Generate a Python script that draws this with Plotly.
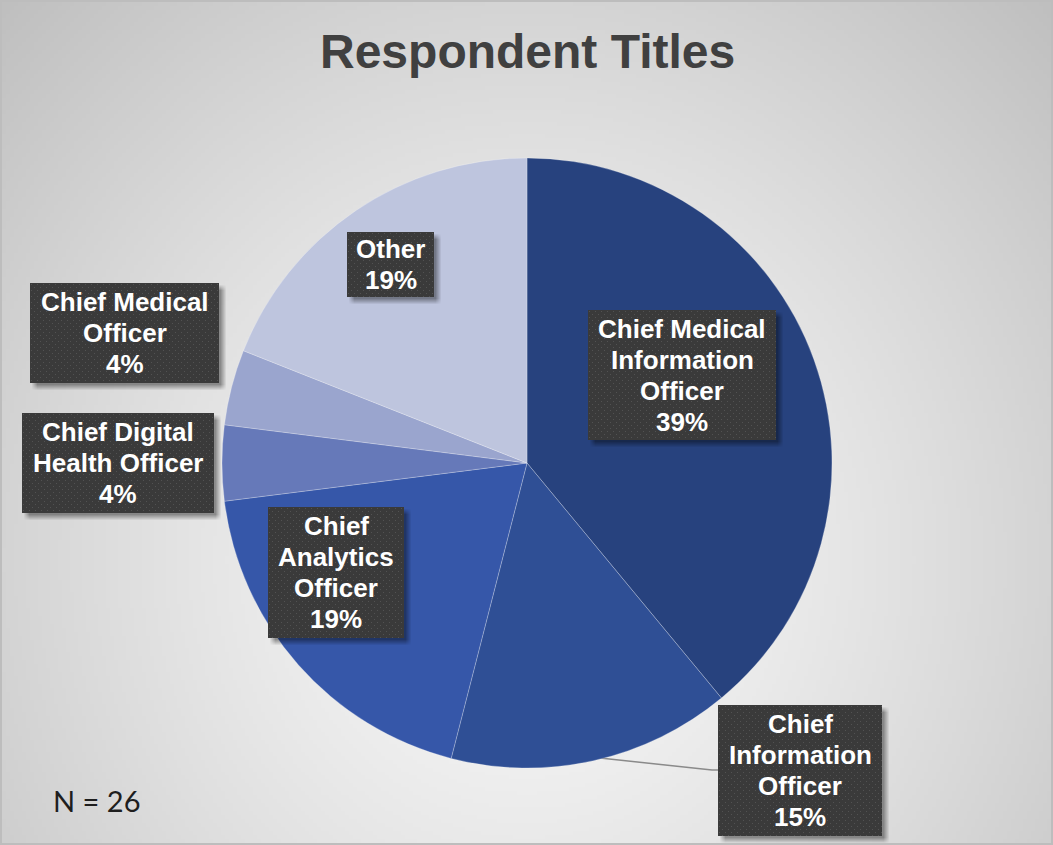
import base64
import struct
import zlib

import numpy as np
import plotly.graph_objects as go

# ---- data -------------------------------------------------------------
titles = [
    "Chief Medical Information Officer",
    "Chief Information Officer",
    "Chief Analytics Officer",
    "Chief Digital Health Officer",
    "Chief Medical Officer",
    "Other",
]
label_lines = [
    ["Chief Medical", "Information", "Officer"],
    ["Chief", "Information", "Officer"],
    ["Chief", "Analytics", "Officer"],
    ["Chief Digital", "Health Officer"],
    ["Chief Medical", "Officer"],
    ["Other"],
]
shares_pct = [39, 15, 19, 4, 4, 19]
respondents = 26

slice_colors = ["#27427e", "#2f4f95", "#3657a9", "#6679b9", "#9aa5ce", "#bec5de"]

# label boxes: left, top, width, height in pixels
label_boxes = [
    (588, 310, 188, 130),
    (718, 705, 164, 131),
    (268, 507, 136, 131),
    (22, 413, 192, 100),
    (30, 283, 189, 100),
    (347, 232, 87, 65),
]
LINE_PITCH = 31
LABEL_SIZE = 26

W, H = 1053, 845


# ---- small PNG helpers ----------------------------------------------
def png_uri(arr):
    arr = np.ascontiguousarray(arr, dtype=np.uint8)
    h, w, c = arr.shape
    ctype = 6 if c == 4 else 2
    raw = b"".join(b"\x00" + arr[r].tobytes() for r in range(h))

    def chunk(tag, data):
        body = tag + data
        return struct.pack(">I", len(data)) + body + struct.pack(">I", zlib.crc32(body) & 0xFFFFFFFF)

    png = b"\x89PNG\r\n\x1a\n"
    png += chunk(b"IHDR", struct.pack(">IIBBBBB", w, h, 8, ctype, 0, 0, 0))
    png += chunk(b"IDAT", zlib.compress(raw, 9))
    png += chunk(b"IEND", b"")
    return "data:image/png;base64," + base64.b64encode(png).decode()


def radial_background():
    bw, bh = 264, 212
    ys, xs = np.mgrid[0:bh, 0:bw].astype(float)
    px = (xs + 0.5) / bw * W
    py = (ys + 0.5) / bh * H
    r = np.sqrt(((px - 527) / 600) ** 2 + ((py - 560) / 640) ** 2)
    v = np.clip(249 - 44 * r ** 1.3, 0, 255)
    img = np.stack([v, v, v], axis=-1)
    return png_uri(img)


def textured_box(w, h, pad=10):
    iw, ih = w + pad, h + pad
    img = np.zeros((ih, iw, 4), dtype=float)
    ys, xs = np.mgrid[0:ih, 0:iw].astype(float)
    off = 4.0
    soft = 6.0
    ax = np.clip((xs - off + soft / 2) / soft, 0, 1) * np.clip((w + off - xs + soft / 2) / soft, 0, 1)
    ay = np.clip((ys - off + soft / 2) / soft, 0, 1) * np.clip((h + off - ys + soft / 2) / soft, 0, 1)
    img[..., 3] = 100 * ax * ay
    # dark panel with a fine dotted texture
    panel = np.full((h, w), 58.0)
    yy, xx = np.mgrid[0:h, 0:w]
    row = yy // 3
    dots = ((yy % 3) == 1) & (((xx + (row % 2) * 3) % 6) == 1)
    panel[dots] = 82.0
    img[:h, :w, 0] = panel
    img[:h, :w, 1] = panel
    img[:h, :w, 2] = panel
    img[:h, :w, 3] = 255
    return png_uri(img)


# ---- figure ----------------------------------------------------------
fig = go.Figure()

fig.add_trace(
    go.Pie(
        labels=titles,
        values=shares_pct,
        sort=False,
        direction="clockwise",
        rotation=0,
        textinfo="none",
        hoverinfo="label+percent",
        marker=dict(colors=slice_colors, line=dict(color="rgba(255,255,255,0.35)", width=0.7)),
        domain=dict(x=[222 / W, 832 / W], y=[1 - 768 / H, 1 - 158 / H]),
        showlegend=False,
    )
)

images = [
    dict(
        source=radial_background(),
        xref="paper", yref="paper", x=0, y=1, sizex=1, sizey=1,
        xanchor="left", yanchor="top", sizing="stretch", layer="below",
    )
]

annotations = []
for (left, top, bw, bh), lines, pct in zip(label_boxes, label_lines, shares_pct):
    pad = 10
    images.append(
        dict(
            source=textured_box(bw, bh, pad),
            xref="paper", yref="paper",
            x=left / W, y=1 - top / H,
            sizex=(bw + pad) / W, sizey=(bh + pad) / H,
            xanchor="left", yanchor="top", sizing="stretch", layer="above",
        )
    )
    rows = lines + [f"{pct}%"]
    cy = top + bh / 2
    first = cy - (len(rows) - 1) * LINE_PITCH / 2
    for i, row_text in enumerate(rows):
        annotations.append(
            dict(
                text=f"<b>{row_text}</b>",
                xref="paper", yref="paper",
                x=(left + bw / 2) / W, y=1 - (first + i * LINE_PITCH) / H,
                xanchor="center", yanchor="middle",
                showarrow=False, align="center",
                font=dict(family="Liberation Sans, Arial, sans-serif", size=LABEL_SIZE, color="white"),
            )
        )

annotations.append(
    dict(
        text="<b>Respondent Titles</b>",
        xref="paper", yref="paper", x=527 / W, y=1 - 51 / H,
        xanchor="center", yanchor="middle", showarrow=False,
        font=dict(family="Liberation Sans, Arial, sans-serif", size=48, color="#404040"),
    )
)
annotations.append(
    dict(
        text=f"N = {respondents}",
        xref="paper", yref="paper", x=51 / W, y=1 - 800 / H,
        xanchor="left", yanchor="middle", showarrow=False,
        font=dict(family="Lato, sans-serif", size=29, color="#1e1e1e"),
    )
)

shapes = [
    # leader line to the Chief Information Officer label
    dict(
        type="path",
        xref="paper", yref="paper",
        path=f"M {600 / W},{1 - 758 / H} L {712 / W},{1 - 770 / H} L {718 / W},{1 - 770 / H}",
        line=dict(color="#8a8a8a", width=1.5),
        layer="below",
    ),
    # chart frame
    dict(
        type="rect", xref="paper", yref="paper",
        x0=1 / W, y0=1 / H, x1=1 - 1 / W, y1=1 - 1 / H,
        line=dict(color="#bdbdbd", width=2),
        layer="above",
    ),
]

fig.update_layout(
    width=W,
    height=H,
    margin=dict(l=0, r=0, t=0, b=0),
    paper_bgcolor="#e6e6e6",
    plot_bgcolor="rgba(0,0,0,0)",
    images=images,
    annotations=annotations,
    shapes=shapes,
)

fig.write_html("out.html")
